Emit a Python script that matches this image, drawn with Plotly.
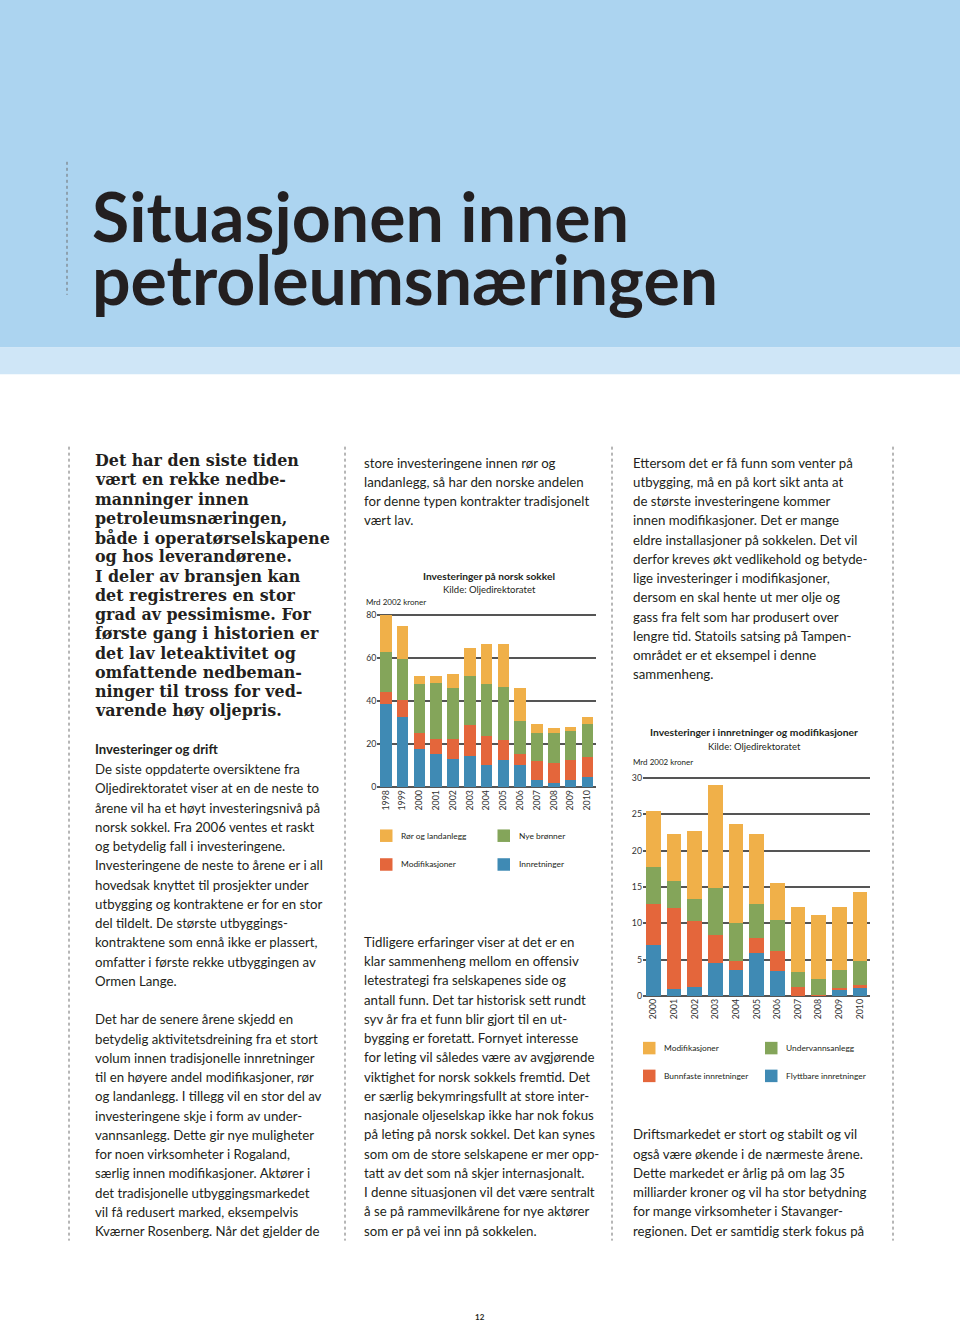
import plotly.graph_objects as go

W, H = 960, 1329

# ---------------- data ----------------
years1 = ["1998", "1999", "2000", "2001", "2002", "2003", "2004", "2005", "2006", "2007", "2008", "2009", "2010"]
innretninger = [39.0, 32.6, 17.7, 15.7, 13.1, 14.8, 10.2, 12.9, 10.3, 3.2, 2.2, 3.4, 4.8]
modifikasjoner1 = [5.3, 8.2, 7.8, 6.6, 9.5, 14.3, 13.8, 9.3, 5.2, 9.1, 9.0, 9.1, 9.4]
nye_bronner = [18.5, 19.0, 22.7, 26.2, 23.4, 22.7, 24.3, 24.4, 15.6, 12.9, 14.0, 13.7, 15.3]
ror_landanlegg = [17.2, 15.4, 3.6, 3.3, 6.5, 13.1, 18.6, 20.2, 14.9, 4.3, 2.3, 1.8, 3.0]
yticks1 = [0, 20, 40, 60, 80]

years2 = ["2000", "2001", "2002", "2003", "2004", "2005", "2006", "2007", "2008", "2009", "2010"]
flyttbare = [7.1, 1.0, 1.3, 4.5, 3.6, 6.0, 3.4, 0.0, 0.1, 0.9, 1.1]
bunnfaste = [5.6, 11.1, 9.0, 3.9, 1.2, 2.0, 2.8, 1.3, 0.1, 0.2, 0.4]
undervann = [5.1, 3.7, 3.0, 6.5, 5.3, 4.7, 4.3, 2.0, 2.1, 2.5, 3.4]
modifikasjoner2 = [7.7, 6.5, 9.4, 14.1, 13.5, 9.6, 5.1, 8.9, 8.8, 8.6, 9.4]
yticks2 = [0, 5, 10, 15, 20, 25, 30]

C_OR, C_GR, C_RD, C_BL = "#f0b049", "#84a55a", "#e4663b", "#3f8ab4"

series1 = [("Innretninger", innretninger, C_BL), ("Modifikasjoner", modifikasjoner1, C_RD),
           ("Nye brønner", nye_bronner, C_GR), ("Rør og landanlegg", ror_landanlegg, C_OR)]
series2 = [("Flyttbare innretninger", flyttbare, C_BL), ("Bunnfaste innretninger", bunnfaste, C_RD),
           ("Undervannsanlegg", undervann, C_GR), ("Modifikasjoner", modifikasjoner2, C_OR)]

# ---------------- text ----------------
title_lines = ["Situasjonen innen", "petroleumsnæringen"]
intro_lines = ["Det har den siste tiden", "vært en rekke nedbe-", "manninger innen", "petroleumsnæringen,",
               "både i operatørselskapene", "og hos leverandørene.", "I deler av bransjen kan",
               "det registreres en stor", "grad av pessimisme. For", "første gang i historien er",
               "det lav leteaktivitet og", "omfattende nedbeman-", "ninger til tross for ved-",
               "varende høy oljepris."]
col1a = ["De siste oppdaterte oversiktene fra", "Oljedirektoratet viser at en de neste to",
         "årene vil ha et høyt investeringsnivå på", "norsk sokkel. Fra 2006 ventes et raskt",
         "og betydelig fall i investeringene.", "Investeringene de neste to årene er i all",
         "hovedsak knyttet til prosjekter under", "utbygging og kontraktene er for en stor",
         "del tildelt. De største utbyggings-", "kontraktene som ennå ikke er plassert,",
         "omfatter i første rekke utbyggingen av", "Ormen Lange."]
col1b = ["Det har de senere årene skjedd en", "betydelig aktivitetsdreining fra et stort",
         "volum innen tradisjonelle innretninger", "til en høyere andel modifikasjoner, rør",
         "og landanlegg. I tillegg vil en stor del av", "investeringene skje i form av under-",
         "vannsanlegg. Dette gir nye muligheter", "for noen virksomheter i Rogaland,",
         "særlig innen modifikasjoner. Aktører i", "det tradisjonelle utbyggingsmarkedet",
         "vil få redusert marked, eksempelvis", "Kværner Rosenberg. Når det gjelder de"]
col2a = ["store investeringene innen rør og", "landanlegg, så har den norske andelen",
         "for denne typen kontrakter tradisjonelt", "vært lav."]
col2b = ["Tidligere erfaringer viser at det er en", "klar sammenheng mellom en offensiv",
         "letestrategi fra selskapenes side og", "antall funn. Det tar historisk sett rundt",
         "syv år fra et funn blir gjort til en ut-", "bygging er foretatt. Fornyet interesse",
         "for leting vil således være av avgjørende", "viktighet for norsk sokkels fremtid. Det",
         "er særlig bekymringsfullt at store inter-", "nasjonale oljeselskap ikke har nok fokus",
         "på leting på norsk sokkel. Det kan synes", "som om de store selskapene er mer opp-",
         "tatt av det som nå skjer internasjonalt.", "I denne situasjonen vil det være sentralt",
         "å se på rammevilkårene for nye aktører", "som er på vei inn på sokkelen."]
col3a = ["Ettersom det er få funn som venter på", "utbygging, må en på kort sikt anta at",
         "de største investeringene kommer", "innen modifikasjoner. Det er mange",
         "eldre installasjoner på sokkelen. Det vil", "derfor kreves økt vedlikehold og betyde-",
         "lige investeringer i modifikasjoner,", "dersom en skal hente ut mer olje og",
         "gass fra felt som har produsert over", "lengre tid. Statoils satsing på Tampen-",
         "området er et eksempel i denne", "sammenheng."]
col3b = ["Driftsmarkedet er stort og stabilt og vil", "også være økende i de nærmeste årene.",
         "Dette markedet er årlig på om lag 35", "milliarder kroner og vil ha stor betydning",
         "for mange virksomheter i Stavanger-", "regionen. Det er samtidig sterk fokus på"]

SANS = "Lato"
TXT = "#231f20"

fig = go.Figure()
for name, vals, col in series1:
    fig.add_trace(go.Bar(x=years1, y=vals, name=name, marker=dict(color=col, line=dict(width=0)),
                         width=0.68, xaxis="x", yaxis="y", showlegend=False))
for name, vals, col in series2:
    fig.add_trace(go.Bar(x=years2, y=vals, name=name, marker=dict(color=col, line=dict(width=0)),
                         width=0.71, xaxis="x2", yaxis="y2", showlegend=False))

def px(x):
    return x / W

def py(y):
    return 1 - y / H

ann = []
shapes = []

def txt(x, y, s, size, family=SANS, color=TXT, xanchor="left", bold=False):
    ann.append(dict(x=px(x), y=py(y), xref="paper", yref="paper", text=s, showarrow=False,
                    xanchor=xanchor, yanchor="middle", align="left",
                    font=dict(size=size, family=family, color=color, weight="bold" if bold else "normal")))

def lines(x, y0, arr, size, step=19.4, **kw):
    for i, s in enumerate(arr):
        txt(x, y0 + i * step, s, size, **kw)

# backgrounds
shapes.append(dict(type="rect", xref="paper", yref="paper", x0=-0.02, x1=1.02, y0=py(345), y1=1.05,
                   fillcolor="#acd4f0", line=dict(width=0), layer="below"))
shapes.append(dict(type="rect", xref="paper", yref="paper", x0=-0.02, x1=1.02, y0=py(372), y1=py(345),
                   fillcolor="#cfe6f7", line=dict(width=0), layer="below"))

# dotted vertical rules
def vline(x, y0, y1):
    shapes.append(dict(type="line", xref="paper", yref="paper", x0=px(x), x1=px(x), y0=py(y0), y1=py(y1),
                       line=dict(color="#6e6e6e", width=1, dash="dot")))

vline(67, 158, 292)
for xv in [69, 345, 612, 893]:
    vline(xv, 445, 1245)

# title
txt(90, 212, title_lines[0], 68, family=SANS, color="#231f20", bold=True)
txt(90, 276, title_lines[1], 68, family=SANS, color="#231f20", bold=True)

# intro (bold serif)
lines(93, 459, intro_lines, 15.9, family="DejaVu Serif", bold=True)

# column 1
txt(93, 750, "Investeringer og drift", 13.2, bold=True)
lines(93, 770, col1a, 13.25)
lines(93, 1022, col1b, 13.25)
# column 2
lines(362, 461, col2a, 13.25)
lines(362, 944, col2b, 13.25)
# column 3
lines(631, 461, col3a, 13.25)
lines(631, 1138, col3b, 13.25)

# chart 1 headers
txt(489, 575, "Investeringer på norsk sokkel", 10.2, xanchor="center", bold=True)
txt(489, 589, "Kilde: Oljedirektoratet", 9.5, xanchor="center")
txt(364, 602, "Mrd 2002 kroner", 8.0)
# chart 2 headers
txt(754, 733, "Investeringer i innretninger og modifikasjoner", 10.3, xanchor="center", bold=True)
txt(754, 747, "Kilde: Oljedirektoratet", 9.5, xanchor="center")
txt(631, 763, "Mrd 2002 kroner", 8.0)

# manual legends
def legend_item(x, y, color, label):
    shapes.append(dict(type="rect", xref="paper", yref="paper", x0=px(x), x1=px(x + 12.5),
                       y0=py(y + 6.3), y1=py(y - 6.3), fillcolor=color, line=dict(width=0)))
    txt(x + 19, y, label, 8.4)

leg1 = {s[0]: s for s in series1}
legend_item(380, 837, leg1["Rør og landanlegg"][2], "Rør og landanlegg")
legend_item(497.5, 837, leg1["Nye brønner"][2], "Nye brønner")
legend_item(380, 866, leg1["Modifikasjoner"][2], "Modifikasjoner")
legend_item(497.5, 866, leg1["Innretninger"][2], "Innretninger")

leg2 = {s[0]: s for s in series2}
legend_item(643, 1051, leg2["Modifikasjoner"][2], "Modifikasjoner")
legend_item(765, 1051, leg2["Undervannsanlegg"][2], "Undervannsanlegg")
legend_item(643, 1079, leg2["Bunnfaste innretninger"][2], "Bunnfaste innretninger")
legend_item(765, 1079, leg2["Flyttbare innretninger"][2], "Flyttbare innretninger")

# page number
txt(480, 1322, "12", 8.0, xanchor="center", bold=True)

axfont = dict(family=SANS, size=8.8, color="#333")
grid = dict(showgrid=True, gridcolor="#555555", gridwidth=1.6, zeroline=True, zerolinecolor="#555555",
            zerolinewidth=1.6, showline=False, ticks="", tickfont=axfont, fixedrange=True)
xcommon = dict(showgrid=False, zeroline=False, showline=False, ticks="", tickangle=-90,
               tickfont=axfont, type="category", fixedrange=True)

# y ranges padded slightly so the top gridline is drawn; domains padded to match
pad1, pad2 = 0.5, 0.2
top1 = 615 - pad1 * (788.3 - 615) / 80
top2 = 778.7 - pad2 * (998.7 - 778.7) / 30

fig.update_layout(
    width=W, height=H, margin=dict(l=0, r=0, t=0, b=0),
    paper_bgcolor="white", plot_bgcolor="rgba(0,0,0,0)",
    barmode="stack", showlegend=False,
    xaxis=dict(domain=[377.4 / W, 595.8 / W], range=[-0.5, 12.5], anchor="y", **xcommon),
    yaxis=dict(domain=[py(788.3), py(top1)], range=[0, 80 + pad1], tickvals=yticks1, anchor="x", **grid),
    xaxis2=dict(domain=[643 / W, 870.3 / W], range=[-0.5, 10.5], anchor="y2", **xcommon),
    yaxis2=dict(domain=[py(998.7), py(top2)], range=[0, 30 + pad2], tickvals=yticks2, anchor="x2", **grid),
    annotations=ann, shapes=shapes,
)

post = ("document.body.style.margin='0';document.body.style.padding='0';"
        "document.body.style.overflow='hidden';"
        "var d=document.getElementById('{plot_id}');"
        "d.style.position='absolute';d.style.left='0px';d.style.top='0px';")

fig.write_html("out.html", config={"displayModeBar": False}, post_script=post)
